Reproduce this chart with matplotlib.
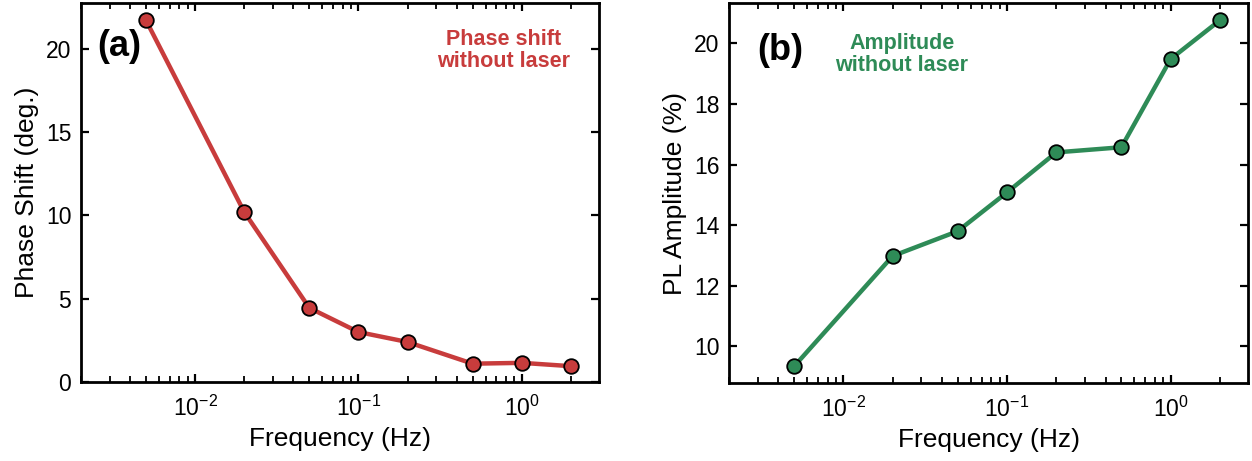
import matplotlib
matplotlib.use("Agg")
import matplotlib.pyplot as plt
from matplotlib.ticker import LogLocator, NullFormatter, NullLocator

plt.rcParams['font.family'] = ['Liberation Sans', 'DejaVu Sans']
plt.rcParams['mathtext.fontset'] = 'custom'
plt.rcParams['mathtext.rm'] = 'Liberation Sans'
plt.rcParams['mathtext.it'] = 'Liberation Sans:italic'
plt.rcParams['mathtext.bf'] = 'Liberation Sans:bold'

freq = [0.005, 0.02, 0.05, 0.1, 0.2, 0.5, 1.0, 2.0]
phase_shift = [21.72, 10.2, 4.45, 3.0, 2.4, 1.1, 1.15, 0.95]
pl_amplitude = [9.34, 12.98, 13.8, 15.08, 16.4, 16.57, 19.48, 20.76]

red = '#c83c3c'
green = '#2e8b57'

fig = plt.figure(figsize=(12.52, 4.61), dpi=100)
axa = fig.add_axes([81/1252, 1-382/461, 518/1252, 379/461])
axb = fig.add_axes([729/1252, 1-383/461, 519/1252, 380/461])

def style(ax):
    ax.set_xscale('log')
    ax.set_xlim(0.002, 2.97)
    ax.xaxis.set_major_locator(LogLocator(base=10, numticks=10))
    ax.xaxis.set_minor_locator(LogLocator(base=10, subs=range(2, 10), numticks=10))
    ax.xaxis.set_minor_formatter(NullFormatter())
    ax.yaxis.set_minor_locator(NullLocator())
    ax.tick_params(which='both', direction='in', top=True, right=True, width=1.6)
    ax.tick_params(axis='x', which='major', labelsize=16.5, pad=10)
    ax.tick_params(axis='y', which='major', labelsize=16.5, pad=7)
    ax.tick_params(which='major', length=6)
    ax.tick_params(which='minor', length=4, width=1.3)
    for s in ax.spines.values():
        s.set_linewidth(2.0)
    ax.set_xlabel('Frequency (Hz)', fontsize=19, labelpad=4)

style(axa)
axa.plot(freq, phase_shift, '-o', color=red, lw=3.2, ms=10.5,
         mfc=red, mec='black', mew=1.3)
axa.set_ylim(0, 22.76)
axa.set_yticks([0, 5, 10, 15, 20])
axa.set_ylabel('Phase Shift (deg.)', fontsize=19, labelpad=5)
axa.text(0.031, 0.884, '(a)', transform=axa.transAxes, fontsize=26,
         fontweight='bold', va='center', ha='left')
axa.text(0.815, 0.874, 'Phase shift\nwithout laser', transform=axa.transAxes,
         fontsize=15.5, fontweight='bold', color=red, ha='center', va='center',
         linespacing=1.05)

style(axb)
axb.plot(freq, pl_amplitude, '-o', color=green, lw=3.2, ms=10.5,
         mfc=green, mec='black', mew=1.3)
axb.set_ylim(8.79, 21.33)
axb.set_yticks([10, 12, 14, 16, 18, 20])
axb.set_ylabel('PL Amplitude (%)', fontsize=19, labelpad=5)
axb.text(0.054, 0.875, '(b)', transform=axb.transAxes, fontsize=26,
         fontweight='bold', va='center', ha='left')
axb.text(0.333, 0.864, 'Amplitude\nwithout laser', transform=axb.transAxes,
         fontsize=15.5, fontweight='bold', color=green, ha='center', va='center',
         linespacing=1.05)

fig.savefig('out.png', dpi=100)
